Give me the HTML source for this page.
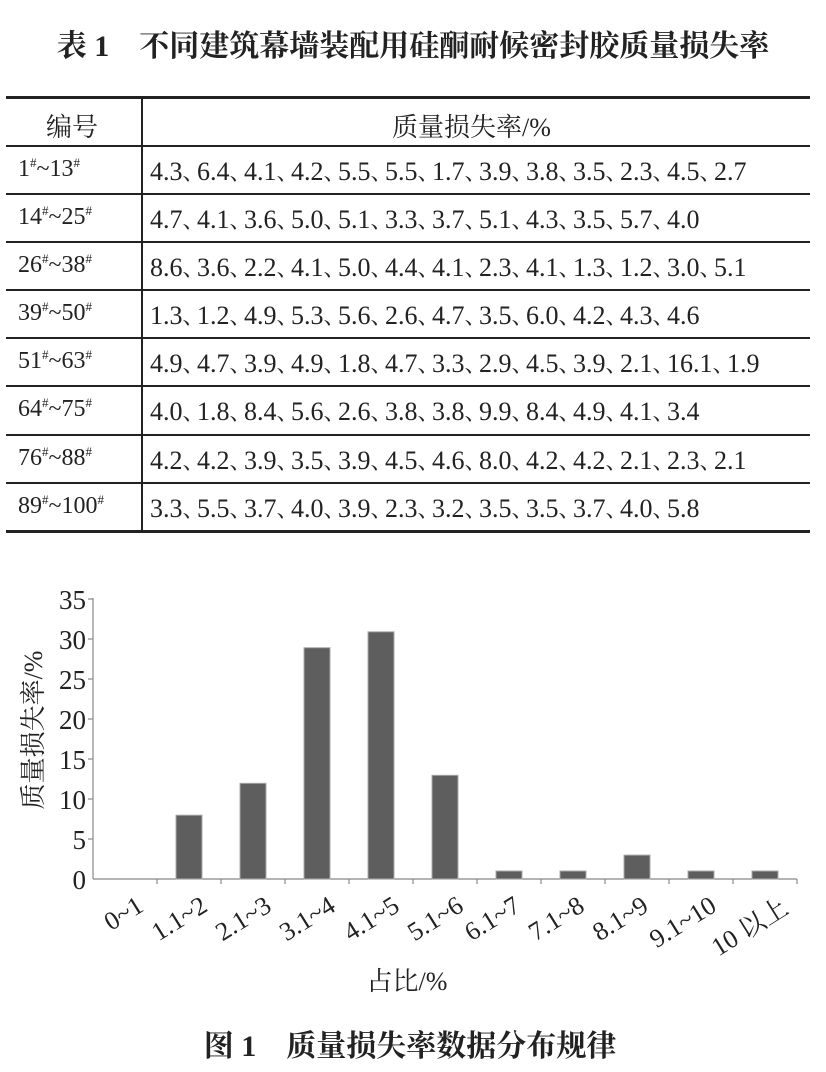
<!DOCTYPE html>
<html><head><meta charset="utf-8"><style>
body{margin:0;background:#fff;width:826px;height:1072px;position:relative;overflow:hidden;font-family:"Liberation Serif","Noto Serif CJK SC",serif;color:#222}
.t{position:absolute;white-space:nowrap}
.title{left:0;width:826px;text-align:center;top:21px;font-size:30px;font-weight:bold;font-family:"Liberation Serif","Noto Serif CJK SC",serif}
.hl{position:absolute;left:6px;width:804px;background:#222}
.row{position:absolute;left:18px;font-size:24px}
.val{position:absolute;left:150px;font-size:26px}
.s{display:inline-block;width:14.5px;overflow:visible;font-size:22px}
sup{font-size:13px}
</style></head><body>
<div class="t title">表 1　不同建筑幕墙装配用硅酮耐候密封胶质量损失率</div>
<div class="hl" style="top:96px;height:3px"></div>
<div class="hl" style="top:145px;height:2px"></div>
<div class="hl" style="top:193px;height:2px"></div>
<div class="hl" style="top:241px;height:2px"></div>
<div class="hl" style="top:289px;height:2px"></div>
<div class="hl" style="top:337px;height:2px"></div>
<div class="hl" style="top:385px;height:2px"></div>
<div class="hl" style="top:434px;height:2px"></div>
<div class="hl" style="top:482px;height:2px"></div>
<div class="hl" style="top:530px;height:3px"></div>
<div style="position:absolute;left:141px;top:98px;width:2px;height:433px;background:#222"></div>
<div class="t" style="left:46px;top:107px;font-size:26px">编号</div>
<div class="t" style="left:392px;top:107px;font-size:26px">质量损失率/%</div>
<div class="t row" style="top:155px">1<sup>#</sup>~13<sup>#</sup></div><div class="t val" style="top:156px">4.3<span class="s">、</span>6.4<span class="s">、</span>4.1<span class="s">、</span>4.2<span class="s">、</span>5.5<span class="s">、</span>5.5<span class="s">、</span>1.7<span class="s">、</span>3.9<span class="s">、</span>3.8<span class="s">、</span>3.5<span class="s">、</span>2.3<span class="s">、</span>4.5<span class="s">、</span>2.7</div>
<div class="t row" style="top:203px">14<sup>#</sup>~25<sup>#</sup></div><div class="t val" style="top:204px">4.7<span class="s">、</span>4.1<span class="s">、</span>3.6<span class="s">、</span>5.0<span class="s">、</span>5.1<span class="s">、</span>3.3<span class="s">、</span>3.7<span class="s">、</span>5.1<span class="s">、</span>4.3<span class="s">、</span>3.5<span class="s">、</span>5.7<span class="s">、</span>4.0</div>
<div class="t row" style="top:251px">26<sup>#</sup>~38<sup>#</sup></div><div class="t val" style="top:252px">8.6<span class="s">、</span>3.6<span class="s">、</span>2.2<span class="s">、</span>4.1<span class="s">、</span>5.0<span class="s">、</span>4.4<span class="s">、</span>4.1<span class="s">、</span>2.3<span class="s">、</span>4.1<span class="s">、</span>1.3<span class="s">、</span>1.2<span class="s">、</span>3.0<span class="s">、</span>5.1</div>
<div class="t row" style="top:299px">39<sup>#</sup>~50<sup>#</sup></div><div class="t val" style="top:300px">1.3<span class="s">、</span>1.2<span class="s">、</span>4.9<span class="s">、</span>5.3<span class="s">、</span>5.6<span class="s">、</span>2.6<span class="s">、</span>4.7<span class="s">、</span>3.5<span class="s">、</span>6.0<span class="s">、</span>4.2<span class="s">、</span>4.3<span class="s">、</span>4.6</div>
<div class="t row" style="top:347px">51<sup>#</sup>~63<sup>#</sup></div><div class="t val" style="top:348px">4.9<span class="s">、</span>4.7<span class="s">、</span>3.9<span class="s">、</span>4.9<span class="s">、</span>1.8<span class="s">、</span>4.7<span class="s">、</span>3.3<span class="s">、</span>2.9<span class="s">、</span>4.5<span class="s">、</span>3.9<span class="s">、</span>2.1<span class="s">、</span>16.1<span class="s">、</span>1.9</div>
<div class="t row" style="top:395px">64<sup>#</sup>~75<sup>#</sup></div><div class="t val" style="top:396px">4.0<span class="s">、</span>1.8<span class="s">、</span>8.4<span class="s">、</span>5.6<span class="s">、</span>2.6<span class="s">、</span>3.8<span class="s">、</span>3.8<span class="s">、</span>9.9<span class="s">、</span>8.4<span class="s">、</span>4.9<span class="s">、</span>4.1<span class="s">、</span>3.4</div>
<div class="t row" style="top:444px">76<sup>#</sup>~88<sup>#</sup></div><div class="t val" style="top:445px">4.2<span class="s">、</span>4.2<span class="s">、</span>3.9<span class="s">、</span>3.5<span class="s">、</span>3.9<span class="s">、</span>4.5<span class="s">、</span>4.6<span class="s">、</span>8.0<span class="s">、</span>4.2<span class="s">、</span>4.2<span class="s">、</span>2.1<span class="s">、</span>2.3<span class="s">、</span>2.1</div>
<div class="t row" style="top:492px">89<sup>#</sup>~100<sup>#</sup></div><div class="t val" style="top:493px">3.3<span class="s">、</span>5.5<span class="s">、</span>3.7<span class="s">、</span>4.0<span class="s">、</span>3.9<span class="s">、</span>2.3<span class="s">、</span>3.2<span class="s">、</span>3.5<span class="s">、</span>3.5<span class="s">、</span>3.7<span class="s">、</span>4.0<span class="s">、</span>5.8</div>

<svg style="position:absolute;left:0;top:0" width="826" height="1072" font-family="Liberation Serif,Noto Serif CJK SC,serif" fill="#222">
<g stroke="#888" stroke-width="1.2">
<line x1="93" y1="598" x2="93" y2="879"/>
<line x1="93" y1="879" x2="797" y2="879"/>
</g>
<g fill="#5e5e5e" stroke="#aaa" stroke-width="1">
<rect x="176" y="815.2" width="26" height="63.8"/>
<rect x="240" y="783.3" width="26" height="95.7"/>
<rect x="304" y="647.7" width="26" height="231.3"/>
<rect x="368" y="631.8" width="26" height="247.2"/>
<rect x="432" y="775.3" width="26" height="103.7"/>
<rect x="496" y="871" width="26" height="8"/>
<rect x="560" y="871" width="26" height="8"/>
<rect x="624" y="855.1" width="26" height="23.9"/>
<rect x="688" y="871" width="26" height="8"/>
<rect x="752" y="871" width="26" height="8"/>
</g>
<g stroke="#888" stroke-width="1.2">
<line x1="88" y1="599" x2="93" y2="599"/><line x1="88" y1="639" x2="93" y2="639"/><line x1="88" y1="679" x2="93" y2="679"/><line x1="88" y1="719" x2="93" y2="719"/><line x1="88" y1="759" x2="93" y2="759"/><line x1="88" y1="799" x2="93" y2="799"/><line x1="88" y1="839" x2="93" y2="839"/>
<line x1="157" y1="879" x2="157" y2="884"/><line x1="221" y1="879" x2="221" y2="884"/><line x1="285" y1="879" x2="285" y2="884"/><line x1="349" y1="879" x2="349" y2="884"/><line x1="413" y1="879" x2="413" y2="884"/><line x1="477" y1="879" x2="477" y2="884"/><line x1="541" y1="879" x2="541" y2="884"/><line x1="605" y1="879" x2="605" y2="884"/><line x1="669" y1="879" x2="669" y2="884"/><line x1="733" y1="879" x2="733" y2="884"/><line x1="797" y1="879" x2="797" y2="884"/>
</g>
<g text-anchor="end" font-size="27">
<text x="86" y="609">35</text><text x="86" y="649">30</text><text x="86" y="689">25</text><text x="86" y="729">20</text><text x="86" y="769">15</text><text x="86" y="809">10</text><text x="86" y="849">5</text><text x="86" y="889">0</text>
</g>
<g text-anchor="end" font-size="26">
<text transform="translate(145,910) rotate(-32)">0~1</text>
<text transform="translate(209,910) rotate(-32)">1.1~2</text>
<text transform="translate(273,910) rotate(-32)">2.1~3</text>
<text transform="translate(337,910) rotate(-32)">3.1~4</text>
<text transform="translate(401,910) rotate(-32)">4.1~5</text>
<text transform="translate(465,910) rotate(-32)">5.1~6</text>
<text transform="translate(522,910) rotate(-32)">6.1~7</text>
<text transform="translate(586,910) rotate(-32)">7.1~8</text>
<text transform="translate(650,910) rotate(-32)">8.1~9</text>
<text transform="translate(718,910) rotate(-32)">9.1~10</text>
<text transform="translate(790,912) rotate(-32)">10 以上</text>
</g>
<text transform="translate(42,730) rotate(-90)" text-anchor="middle" font-size="26">质量损失率/%</text>
<text x="407" y="990" text-anchor="middle" font-size="26">占比/%</text>
<text x="410" y="1056" text-anchor="middle" font-size="30" font-weight="bold">图 1　质量损失率数据分布规律</text>
</svg>
</body></html>
